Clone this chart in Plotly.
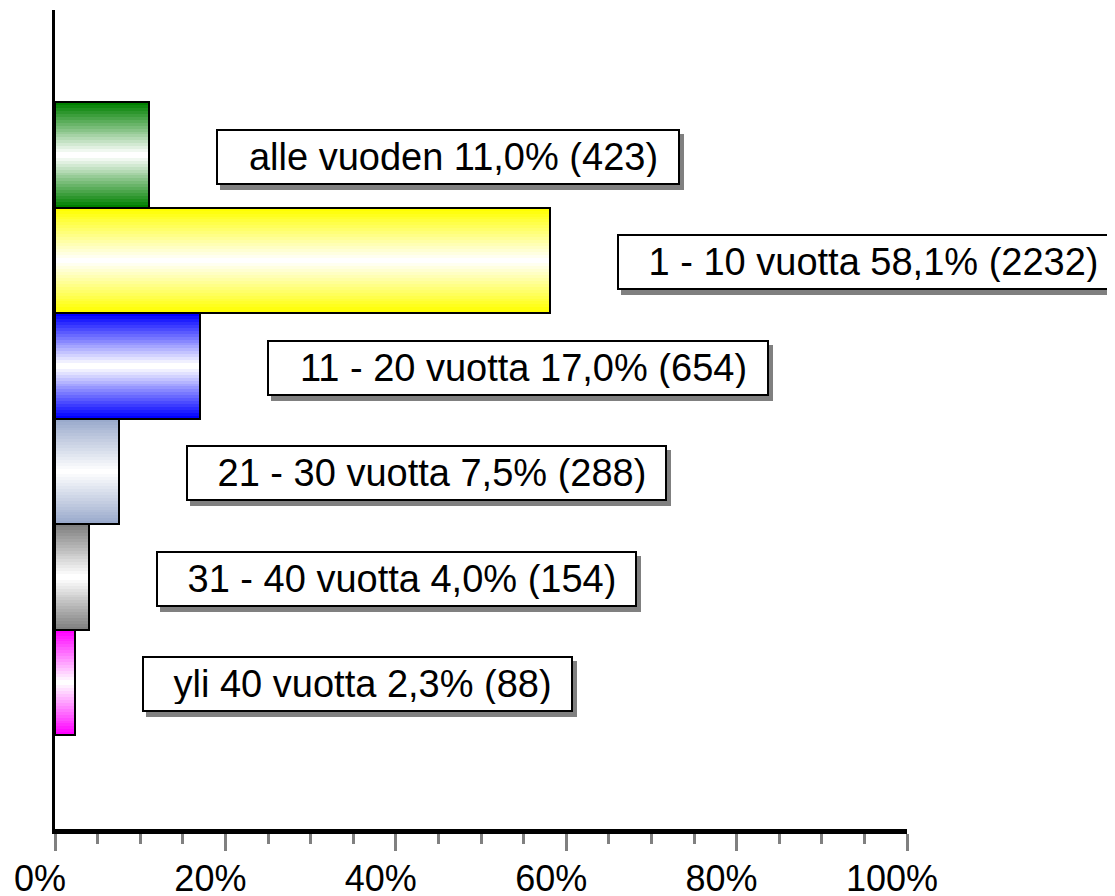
import plotly.graph_objects as go

# ---- data ----
categories = ["alle vuoden", "1 - 10 vuotta", "11 - 20 vuotta",
              "21 - 30 vuotta", "31 - 40 vuotta", "yli 40 vuotta"]
percent = [11.0, 58.1, 17.0, 7.5, 4.0, 2.3]
counts = [423, 2232, 654, 288, 154, 88]
percent_text = ["11,0%", "58,1%", "17,0%", "7,5%", "4,0%", "2,3%"]
tick_values = [0, 20, 40, 60, 80, 100]
tick_labels = ["0%", "20%", "40%", "60%", "80%", "100%"]

# ---- styles ----
base_colors = [(0, 128, 0), (255, 255, 0), (0, 0, 255),
               (154, 170, 204), (128, 128, 128), (255, 0, 255)]
FONT = "Liberation Sans, Arial, sans-serif"
LABEL_SIZE = 38
N_LAYERS = 18

# Arial / Liberation Sans advance widths (em) used to size the label boxes
CHAR_W = {" ": .278, "\u00a0": .278, "-": .333, ",": .278, "%": .889, "(": .333,
          ")": .333, "a": .556, "l": .222, "e": .556, "v": .5, "u": .556,
          "o": .556, "d": .556, "n": .556, "t": .278, "y": .5, "i": .222}


def text_px(s, size):
    return sum(CHAR_W.get(ch, .556) for ch in s) * size


positions = list(range(len(categories)))


def mix(c, f):
    r, g, b = (round(v + (255 - v) * f) for v in c)
    return f"rgb({r},{g},{b})"


fig = go.Figure()

# gradient bars: overlaid bars of decreasing thickness, lighter toward centre
for k in range(N_LAYERS):
    f = k / (N_LAYERS - 1)
    w = 1 - k / N_LAYERS
    fig.add_trace(go.Bar(
        x=percent, y=positions, orientation="h", width=w,
        marker=dict(color=[mix(c, f) for c in base_colors], line=dict(width=0)),
        hoverinfo="skip", showlegend=False,
    ))

# outline
fig.add_trace(go.Bar(
    x=percent, y=positions, orientation="h", width=1,
    marker=dict(color="rgba(0,0,0,0)", line=dict(color="black", width=2)),
    hovertext=categories, showlegend=False,
))

# labels with drop shadow
for i, cat in enumerate(categories):
    txt = f"\u00a0{cat} {percent_text[i]} ({counts[i]})"
    box_w = text_px(txt, LABEL_SIZE) + 26
    common = dict(x=percent[i], y=positions[i], xref="x", yref="y",
                  xanchor="left", yanchor="middle", showarrow=False,
                  borderpad=6, borderwidth=2, width=box_w, height=40,
                  align="center", valign="middle")
    fig.add_annotation(text=" ", xshift=71, yshift=-7,
                       font=dict(family=FONT, size=LABEL_SIZE, color="#808080"),
                       bgcolor="#808080", bordercolor="#808080", **common)
    fig.add_annotation(text=txt, xshift=67, yshift=-2,
                       font=dict(family=FONT, size=LABEL_SIZE, color="black"),
                       bgcolor="white", bordercolor="black", **common)

fig.update_layout(
    width=1107, height=888,
    margin=dict(l=47, r=208, t=2, b=67),
    paper_bgcolor="white", plot_bgcolor="white",
    barmode="overlay", bargap=0,
    font=dict(family=FONT, size=36, color="black"),
    showlegend=False,
)
fig.update_xaxes(
    range=[0, 100], tickvals=tick_values, ticktext=tick_labels,
    showline=True, linecolor="black", linewidth=5,
    ticks="outside", ticklen=17, tickwidth=3, tickcolor="#808080",
    minor=dict(dtick=5, ticks="outside", ticklen=10, tickwidth=3, tickcolor="#808080"),
    showgrid=False, zeroline=False, ticklabelshift=-15, ticklabelstandoff=-3,
    automargin=False,
    tickfont=dict(family=FONT, size=36, color="black"),
)
fig.update_yaxes(
    range=[6.389, -1.374], showline=True, linecolor="black", linewidth=3,
    showticklabels=False, ticks="", showgrid=False, zeroline=False,
    automargin=False,
)

fig.write_html("out.html")
